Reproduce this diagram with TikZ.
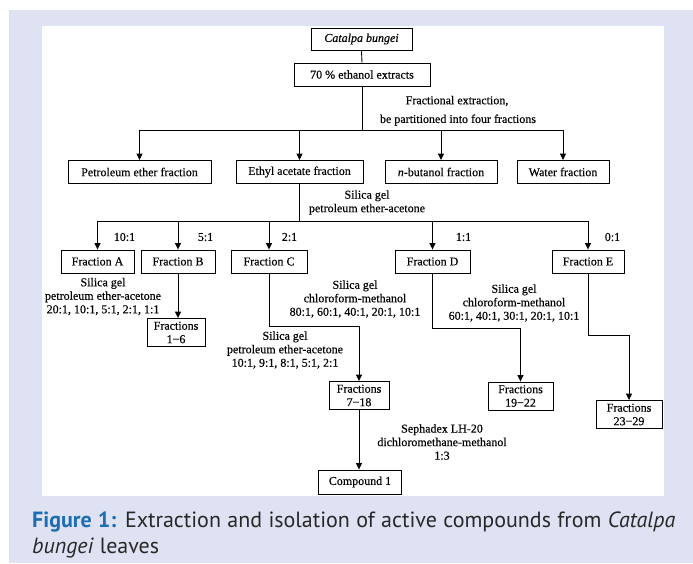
\documentclass[tikz,border=0pt]{standalone}
\usepackage{fontspec}
\setmainfont{Liberation Serif}[FakeBold=0.3]
\newfontfamily\capfont{PT Sans}
\usetikzlibrary{arrows.meta}
\definecolor{lav}{RGB}{223,226,242}
\definecolor{figblue}{RGB}{28,110,180}
\definecolor{captxt}{RGB}{40,40,40}
\begin{document}
\begin{tikzpicture}[x=1pt,y=-1pt,
  box/.style={draw,line width=0.9pt,inner sep=0pt,minimum height=23pt,
    font=\fontsize{12}{13.5}\selectfont,align=center},
  fbox/.style={box,minimum height=28pt},
  lbl/.style={font=\fontsize{12}{13.5}\selectfont,align=center,inner sep=0pt},
  conn/.style={line width=0.9pt},
  arr/.style={conn,-{Triangle[length=6.5pt,width=6pt]}},
  captext/.style={inner sep=0pt,anchor=base west,font=\capfont\fontsize{22}{26}\selectfont,text=captxt}]
\useasboundingbox (0,0) rectangle (693,563);
\fill[lav] (9,10) rectangle (693,563);
\fill[white] (42,26) rectangle (664,496);

% top
\node[box,minimum width=101pt,minimum height=22pt] (cb) at (361.5,39) {\textit{Catalpa bungei}};
\node[box,minimum width=136pt] (eth) at (362,74.5) {70 \% ethanol extracts};
\draw[conn] (cb.south) -- (eth.north);
\coordinate (j1) at (362,130);
\draw[conn] (eth.south) -- (j1);
\node[lbl] (l1) at (457,101) {Fractional extraction,};
\node[lbl] (l2) at (458,120) {be partitioned into four fractions};

% four fractions
\node[box,minimum width=143pt] (pe) at (139.5,172) {Petroleum ether fraction};
\node[box,minimum width=127pt] (ea) at (299.5,172) {Ethyl acetate fraction};
\node[box,minimum width=112pt] (nb) at (441,172) {\textit{n}-butanol fraction};
\node[box,minimum width=92pt] (wf) at (563,172) {Water fraction};
\draw[arr] (j1) -| (pe.north);
\draw[arr] (j1) -| (ea.north);
\draw[arr] (j1) -| (nb.north);
\draw[arr] (j1) -| (wf.north);

% ethyl acetate split
\coordinate (j2) at (299.5,221);
\draw[conn] (ea.south) -- (j2);
\node[lbl] (l3) at (367,202.5) {Silica gel\\petroleum ether-acetone};
\node[box,minimum width=73pt] (fa) at (97.5,261.5) {Fraction A};
\node[box,minimum width=74pt] (fb) at (178,261.5) {Fraction B};
\node[box,minimum width=76pt] (fc) at (269,261.5) {Fraction C};
\node[box,minimum width=75pt] (fd) at (432.5,261.5) {Fraction D};
\node[box,minimum width=72pt] (fe) at (588,261.5) {Fraction E};
\draw[arr] (j2) -| (fa.north);
\draw[arr] (j2) -| (fb.north);
\draw[arr] (j2) -| (fc.north);
\draw[arr] (j2) -| (fd.north);
\draw[arr] (j2) -| (fe.north);
\node[lbl] (r1) at (124.5,237) {10:1};
\node[lbl] (r2) at (205.5,237) {5:1};
\node[lbl] (r3) at (289.5,237) {2:1};
\node[lbl] (r4) at (463.5,237) {1:1};
\node[lbl] (r5) at (612.5,237) {0:1};

% Fraction A label
\node[lbl] (la) at (103,296.5) {Silica gel\\petroleum ether-acetone\\20:1, 10:1, 5:1, 2:1, 1:1};

% Fraction B
\node[fbox,minimum width=58pt] (f16) at (176,332.5) {Fractions\\1−6};
\draw[arr] (fb.south) -- (fb.south |- f16.north);

% Fraction C
\node[fbox,minimum width=60pt] (f718) at (359,395.5) {Fractions\\7−18};
\coordinate (cb1) at (269,326);
\draw[arr] (fc.south) -- (cb1) -| (f718.north);
\node[lbl] (lc1) at (355,299) {Silica gel\\chloroform-methanol\\80:1, 60:1, 40:1, 20:1, 10:1};
\node[lbl] (lc2) at (285,350) {Silica gel\\petroleum ether-acetone\\10:1, 9:1, 8:1, 5:1, 2:1};

% Compound 1
\node[box,minimum width=83pt,minimum height=24pt] (c1) at (360,482) {Compound 1};
\draw[arr] (f718.south) -- (f718.south |- c1.north);
\node[lbl] (ls) at (442,442) {Sephadex LH-20\\dichloromethane-methanol\\1:3};

% Fraction D
\node[fbox,minimum width=65pt] (f1922) at (520.5,396) {Fractions\\19−22};
\coordinate (db1) at (432.5,328);
\draw[arr] (fd.south) -- (db1) -| (f1922.north);
\node[lbl] (ld) at (514,303) {Silica gel\\chloroform-methanol\\60:1, 40:1, 30:1, 20:1, 10:1};

% Fraction E
\node[fbox,minimum width=66pt] (f2329) at (629,414.5) {Fractions\\23−29};
\coordinate (eb1) at (588,335);
\draw[arr] (fe.south) -- (eb1) -| (f2329.north);

% caption
\node[captext] (cap1) at (32,527) {\makebox[643pt][s]{\textcolor{figblue}{\bfseries Figure 1:} Extraction and isolation of active compounds from \textit{Catalpa}}};
\node[captext] (cap2) at (32,553) {\textit{bungei} leaves};
\end{tikzpicture}
\end{document}
